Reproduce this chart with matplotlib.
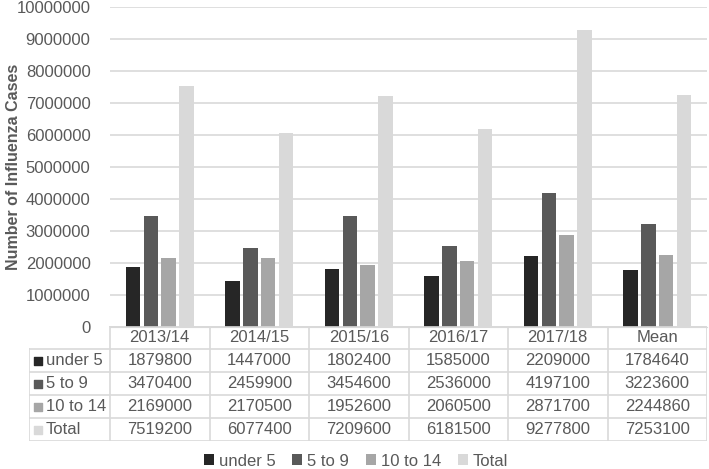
import matplotlib.pyplot as plt
import numpy as np

plt.rcParams['font.family'] = ['Liberation Sans', 'DejaVu Sans']

seasons = ['2013/14', '2014/15', '2015/16', '2016/17', '2017/18', 'Mean']
groups = ['under 5', '5 to 9', '10 to 14', 'Total']
under5 = [1879800, 1447000, 1802400, 1585000, 2209000, 1784640]
age5to9 = [3470400, 2459900, 3454600, 2536000, 4197100, 3223600]
age10to14 = [2169000, 2170500, 1952600, 2060500, 2871700, 2244860]
total = [7519200, 6077400, 7209600, 6181500, 9277800, 7253100]
series = [under5, age5to9, age10to14, total]
colors = ['#262626', '#595959', '#a6a6a6', '#d9d9d9']
txt = '#595959'
grid_c = '#d9d9d9'

W, H = 709, 469
fig = plt.figure(figsize=(W / 100, H / 100), dpi=100)

# main chart area (pixel box -> figure fraction)
x0, x1 = 110, 707
ytop, ybot = 7, 327
ax = fig.add_axes([x0 / W, 1 - ybot / H, (x1 - x0) / W, (ybot - ytop) / H])

x = np.arange(len(seasons))
offsets = [-0.27, -0.09, 0.09, 0.27]
for vals, off, c, name in zip(series, offsets, colors, groups):
    ax.bar(x + off, vals, width=0.145, color=c, label=name, zorder=3)

ax.set_xlim(-0.5, len(seasons) - 0.5)
ax.set_ylim(0, 10000000)
ax.set_yticks(np.arange(0, 10000001, 1000000))
ax.set_yticklabels([str(v) for v in range(0, 10000001, 1000000)])
ax.yaxis.grid(True, color=grid_c, linewidth=1.2, zorder=0)
ax.set_xticks([])
for s in ['top', 'right', 'left']:
    ax.spines[s].set_visible(False)
ax.spines['bottom'].set_color(grid_c)
ax.tick_params(axis='y', length=0, labelsize=12, labelcolor=txt, pad=14)
ax.set_ylabel('Number of Influenza Cases', fontsize=11.5, fontweight='bold',
              color=txt)
ax.yaxis.set_label_coords((21 - x0) / (x1 - x0), 0.5)

# data table below the chart
tx0, ty0, ty1 = 29, 326, 441
tab = fig.add_axes([tx0 / W, 1 - ty1 / H, (x1 - tx0) / W, (ty1 - ty0) / H])
left = -0.5 - (x0 - tx0) / ((x1 - x0) / len(seasons))
tab.set_xlim(left, len(seasons) - 0.5)
tab.set_ylim(5, 0)
tab.axis('off')

lw = 1.2
tab.plot([-0.5, len(seasons) - 0.5], [0, 0], color=grid_c, lw=lw)
for r in range(1, 6):
    tab.plot([left, len(seasons) - 0.5], [r, r], color=grid_c, lw=lw)
tab.plot([left, left], [1, 5], color=grid_c, lw=lw)
for c in range(len(seasons) + 1):
    tab.plot([c - 0.5, c - 0.5], [0, 5], color=grid_c, lw=lw)

for i, s in enumerate(seasons):
    tab.text(i, 0.5, s, ha='center', va='center', fontsize=12, color=txt)
for r, (vals, name, c) in enumerate(zip(series, groups, colors), start=1):
    tab.scatter([left + 0.09], [r + 0.5], marker='s', s=30, color=c)
    tab.text(left + 0.17, r + 0.5, name, ha='left', va='center', fontsize=12, color=txt)
    for i, v in enumerate(vals):
        tab.text(i, r + 0.5, str(v), ha='center', va='center', fontsize=12, color=txt)

handles, labels = ax.get_legend_handles_labels()
fig.legend(handles, labels, loc='center', bbox_to_anchor=(356 / W, 1 - 461 / H),
           ncol=4, frameon=False, fontsize=12, labelcolor=txt,
           handlelength=0.6, handleheight=0.6, handletextpad=0.3, columnspacing=1.0)

fig.savefig('out.png', dpi=100)
